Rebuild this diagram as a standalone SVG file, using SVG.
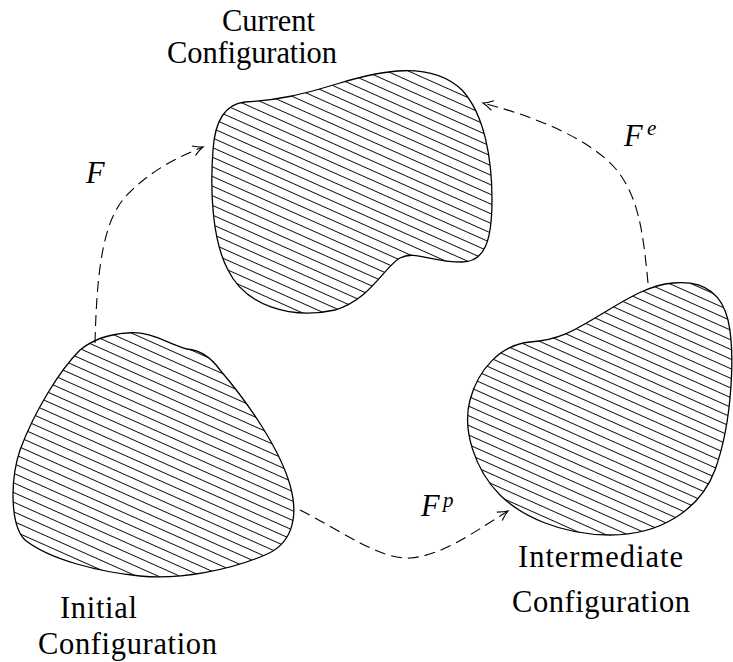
<svg xmlns="http://www.w3.org/2000/svg" width="733" height="662" viewBox="0 0 733 662">
<defs>
<pattern id="hatch" patternUnits="userSpaceOnUse" width="40" height="8.8" patternTransform="rotate(24)">
<line x1="0" y1="4.4" x2="40" y2="4.4" stroke="#111" stroke-width="1"/>
</pattern>
<marker id="arr" viewBox="-12 -7 14 14" refX="0" refY="0" markerWidth="14" markerHeight="14" markerUnits="userSpaceOnUse" orient="auto">
<path d="M -10,-5 Q -4,-1.2 0,0 Q -4,1.2 -10,5" fill="none" stroke="#000" stroke-width="1.1"/>
</marker>
</defs>
<style>
.blob{fill:url(#hatch);stroke:#000;stroke-width:1.3}
.conn{fill:none;stroke:#000;stroke-width:1.1;stroke-dasharray:11 6;marker-end:url(#arr)}
.t{font-family:"Liberation Serif","DejaVu Serif",serif;font-size:30.5px;fill:#000}
.m{font-family:"Liberation Serif","DejaVu Serif",serif;font-style:italic;fill:#000}
</style>
<g id="current">
<path class="blob" d="M 245,102 C 280,100 300,95 340,83 C 380,71 430,60 462,90 C 485,115 492,160 492,200 C 492,240 485,262 462,262 C 430,262 415,250 400,258 C 385,266 370,300 335,310 C 290,320 245,305 228,270 C 212,240 210,190 213,150 C 215,120 225,104 245,102 Z"/>
<text class="t" x="222" y="31" textLength="93">Current</text>
<text class="t" x="167" y="63" textLength="170">Configuration</text>
</g>
<g id="initial">
<path class="blob" d="M 127,333 C 150,330 170,345 187,349 C 200,350 210,356 220,370 C 250,405 280,450 290,485 C 300,520 290,545 265,555 C 230,570 180,580 140,576 C 100,572 50,560 25,540 C 10,525 10,480 20,450 C 35,410 60,370 80,350 C 95,338 110,334 127,333 Z"/>
<text class="t" x="60" y="618" textLength="77">Initial</text>
<text class="t" x="38" y="654" textLength="179">Configuration</text>
</g>
<g id="intermediate">
<path class="blob" d="M 673,283 C 705,280 722,295 728,320 C 735,350 733,420 715,470 C 700,510 660,535 610,535 C 560,535 520,515 500,495 C 475,470 462,430 470,400 C 478,370 500,345 530,342 C 560,340 575,330 600,315 C 625,300 648,285 673,283 Z"/>
<text class="t" x="518" y="567" textLength="165">Intermediate</text>
<text class="t" x="512" y="612" textLength="178">Configuration</text>
</g>
<g id="connectors">
<path class="conn" d="M 95,343 C 97,260 105,215 130,192 C 150,172 175,158 203,147"/>
<path class="conn" d="M 648,283 C 643,230 638,195 615,168 C 590,140 540,118 483,103"/>
<path class="conn" d="M 300,510 C 340,530 380,560 410,558 C 440,556 470,535 508,511"/>
<text class="m" x="86" y="183" font-size="30.5">F</text>
<text class="m" x="624" y="146" font-size="30.5">F</text>
<text class="m" x="647" y="135" font-size="21">e</text>
<text class="m" x="421" y="516" font-size="30.5">F</text>
<text class="m" x="443" y="507" font-size="21">p</text>
</g>
</svg>
